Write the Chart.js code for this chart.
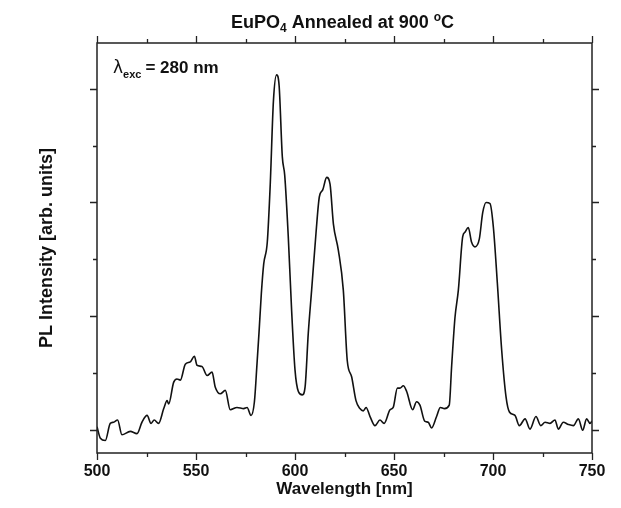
<!DOCTYPE html>
<html>
<head>
<meta charset="utf-8">
<script src="https://cdn.jsdelivr.net/npm/chart.js@4.4.1/dist/chart.umd.min.js"></script>
<style>
  html, body { margin: 0; padding: 0; background: #fff; }
  #wrap { width: 621px; height: 508px; position: relative; }
</style>
</head>
<body>
<div id="wrap"><canvas id="plChart"></canvas></div>
<script>
// --- DATA ---
// emission spectrum, lambda_exc = 280 nm
const wavelength = [
  500, 501.7, 504.2, 506.7, 508.4, 510.4, 512.6, 516.8, 520.2, 522.7,
  525.3, 527.3, 528.9, 531.1, 533.7, 535.4, 536.2, 538.7, 540.4, 542.1,
  544.6, 547.1, 549.2, 550.5, 553, 555.6, 558.1, 559.7, 562.3, 564.8,
  567.3, 570.7, 574.1, 575.8, 577.8, 579.5, 580.8, 581.8, 583, 584.2,
  586, 587.5, 589.1, 590.7, 592, 593.6, 594.8, 596.6, 598.3, 600,
  601.7, 603.7, 605.1, 606.7, 608.4, 610.6, 612.3, 614, 616, 617.7,
  619.4, 621.9, 624.4, 626.4, 628.6, 630.8, 632.8, 634.5, 635.9, 637.9,
  640.4, 642.9, 645, 648, 649.6, 651.7, 653, 654.7, 656.4, 659.4,
  661.4, 663.1, 665.5, 667.3, 669, 671.5, 673.4, 675.5, 677.9, 679.1,
  680.8, 682.5, 684.7, 685.9, 687.5, 689.2, 690.9, 693.1, 694.8, 696.5,
  698.5, 700.2, 702.2, 704.4, 706.6, 708.3, 711.1, 713.3, 716.2, 718.7,
  721.7, 724.1, 726.3, 728.8, 731.3, 733, 735.5, 738.1, 740.6, 743.1,
  745.3, 747.3, 749, 750
];
const intensity = [
  0.03, -0.07, -0.09, 0.06, 0.07, 0.09, -0.04, -0.01, -0.03, 0.07,
  0.13, 0.06, 0.09, 0.06, 0.19, 0.26, 0.23, 0.42, 0.45, 0.44,
  0.58, 0.60, 0.65, 0.57, 0.56, 0.48, 0.51, 0.38, 0.32, 0.35,
  0.18, 0.20, 0.19, 0.20, 0.13, 0.25, 0.58, 0.85, 1.2, 1.46,
  1.65, 2.16, 2.89, 3.12, 3.02, 2.40, 2.24, 1.70, 1.05, 0.53,
  0.34, 0.31, 0.38, 0.85, 1.23, 1.73, 2.05, 2.11, 2.22, 2.16,
  1.81, 1.58, 1.23, 0.61, 0.47, 0.26, 0.19, 0.17, 0.20, 0.12,
  0.04, 0.09, 0.06, 0.18, 0.20, 0.37, 0.37, 0.39, 0.34, 0.18,
  0.25, 0.22, 0.08, 0.07, 0.02, 0.12, 0.20, 0.19, 0.22, 0.56,
  0.99, 1.23, 1.70, 1.74, 1.78, 1.65, 1.61, 1.68, 1.91, 2.00,
  1.99, 1.78, 1.29, 0.70, 0.29, 0.16, 0.13, 0.04, 0.10, 0.01,
  0.12, 0.04, 0.07, 0.06, 0.09, 0.01, 0.07, 0.05, 0.04, 0.10,
  0.00, 0.10, 0.06, 0.08
];

// axis ticks (labels only on the bottom axis)
const xMajorTicks = [500, 550, 600, 650, 700, 750];
const xMinorTicks = [525, 575, 625, 675, 725];
const yMajorTicks = [0, 1, 2, 3];
const yMinorTicks = [0.5, 1.5, 2.5];

const INK = '#111';
const FONT = '"Liberation Sans", Arial, sans-serif';

// --- helpers ---
// draws a run of text pieces (normal / sub / sup) centred on cx
function drawRichText(ctx, parts, cx, baseY) {
  let total = 0;
  parts.forEach(p => { ctx.font = p.font; p.w = ctx.measureText(p.text).width; total += p.w; });
  let x = cx - total / 2;
  ctx.textBaseline = 'alphabetic';
  ctx.textAlign = 'left';
  parts.forEach(p => {
    ctx.font = p.font;
    ctx.fillText(p.text, x, baseY + (p.dy || 0));
    x += p.w;
  });
}

// frame, in/out ticks and annotations
const framePlugin = {
  id: 'frame',
  afterDraw(chart) {
    const { ctx, chartArea: a, scales } = chart;
    const xs = scales.x, ys = scales.y;
    ctx.save();
    ctx.strokeStyle = '#222';
    ctx.fillStyle = INK;
    ctx.lineWidth = 1.5;
    ctx.strokeRect(a.left, a.top, a.right - a.left, a.bottom - a.top);

    ctx.lineWidth = 1.3;
    ctx.beginPath();
    const xTick = (v, len) => {
      const px = Math.round(xs.getPixelForValue(v)) + 0.5;
      ctx.moveTo(px, a.bottom); ctx.lineTo(px, a.bottom + len);
      ctx.moveTo(px, a.top); ctx.lineTo(px, a.top - len);
    };
    const yTick = (v, len) => {
      const py = Math.round(ys.getPixelForValue(v)) + 0.5;
      ctx.moveTo(a.left, py); ctx.lineTo(a.left - len, py);
      ctx.moveTo(a.right, py); ctx.lineTo(a.right + len, py);
    };
    xMajorTicks.forEach(v => xTick(v, 7));
    xMinorTicks.forEach(v => xTick(v, 4));
    yMajorTicks.forEach(v => yTick(v, 7));
    yMinorTicks.forEach(v => yTick(v, 4));
    ctx.stroke();

    // chart title
    const big = 'bold 18px ' + FONT, small = 'bold 12px ' + FONT;
    drawRichText(ctx, [
      { text: 'EuPO', font: big },
      { text: '4', font: small, dy: 4 },
      { text: ' Annealed at 900 ', font: big },
      { text: 'o', font: small, dy: -7 },
      { text: 'C', font: big }
    ], (a.left + a.right) / 2 - 2, 28);

    // excitation wavelength label
    ctx.textAlign = 'left';
    ctx.textBaseline = 'alphabetic';
    let x = a.left + 16;
    ctx.font = '17px "DejaVu Sans", ' + FONT;
    ctx.fillText('\u03bb', x, 73);
    x += ctx.measureText('\u03bb').width;
    ctx.font = 'bold 11px ' + FONT;
    ctx.fillText('exc', x, 78);
    x += ctx.measureText('exc').width + 4;
    ctx.font = 'bold 17px ' + FONT;
    ctx.fillText('= 280 nm', x, 73);
    ctx.restore();
  }
};

new Chart(document.getElementById('plChart'), {
  type: 'line',
  data: {
    datasets: [{
      data: wavelength.map((w, i) => ({ x: w, y: intensity[i] })),
      borderColor: INK,
      borderWidth: 1.6,
      pointRadius: 0,
      fill: false,
      tension: 0.35,
      cubicInterpolationMode: 'monotone'
    }]
  },
  options: {
    responsive: true,
    maintainAspectRatio: false,
    animation: false,
    layout: { padding: { top: 43, right: 29, left: 0, bottom: 0 } },
    plugins: { legend: { display: false }, tooltip: { enabled: false } },
    scales: {
      x: {
        type: 'linear',
        min: 500,
        max: 750,
        afterFit: s => { s.height = 55; },
        afterBuildTicks: s => { s.ticks = xMajorTicks.map(v => ({ value: v })); },
        grid: { display: false, drawTicks: false },
        border: { display: false },
        ticks: { color: INK, padding: 9, font: { family: FONT, size: 16, weight: 'bold' } },
        title: {
          display: true,
          text: 'Wavelength [nm]',
          color: INK,
          padding: { top: 0, bottom: 8 },
          font: { family: FONT, size: 17, weight: 'bold' }
        }
      },
      y: {
        type: 'linear',
        min: -0.2,
        max: 3.4,
        afterFit: s => { s.width = 97; },
        grid: { display: false, drawTicks: false },
        border: { display: false },
        ticks: { display: false },
        title: {
          display: true,
          text: 'PL Intensity [arb. units]',
          color: INK,
          padding: { top: 36, bottom: 0 },
          font: { family: FONT, size: 18, weight: 'bold' }
        }
      }
    }
  },
  plugins: [framePlugin]
});
</script>
</body>
</html>
